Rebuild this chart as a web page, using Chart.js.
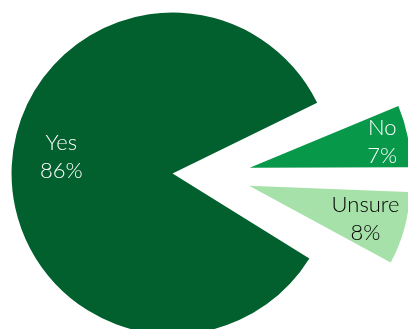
<!DOCTYPE html>
<html>
<head>
<meta charset="utf-8">
<script src="https://cdn.jsdelivr.net/npm/chart.js@4"></script>
<style>
  html, body { margin: 0; padding: 0; background: #fff; }
  #wrap { width: 408px; height: 329px; }
</style>
</head>
<body>
<div id="wrap"><canvas id="myChart" width="408" height="329"></canvas></div>
<script>
const categories = ['Yes', 'No', 'Unsure'];
const values = [86, 7, 8];
const sliceColors = ['#01602D', '#07984A', '#A6E1A9'];
const labelColors = ['#ffffff', '#ffffff', '#000000'];

const RADIUS = 161;
const EXPLODE = 39;          // gap each slice is pulled out, px
const labelDist = [0.70, 0.84, 0.75];   // label distance, fraction of radius
const labelAngle = [0.52, 0.5, 0.5];    // where in the slice the label sits

// Chart.js grows the arc radius together with the offset; undo that
const keepRadius = {
  id: 'keepRadius',
  afterDatasetsUpdate(chart) {
    chart.getDatasetMeta(0).data.forEach(arc => {
      const off = (arc.options.offset || 0) / 4;
      const fix = 1 - Math.sin(Math.min(Math.PI, arc.circumference));
      arc.outerRadius = RADIUS - off * fix;
    });
  }
};

const sliceLabels = {
  id: 'sliceLabels',
  afterDatasetsDraw(chart) {
    const ctx = chart.ctx;
    ctx.save();
    ctx.font = '300 22px Lato';
    ctx.textAlign = 'center';
    ctx.textBaseline = 'alphabetic';
    chart.getDatasetMeta(0).data.forEach((arc, i) => {
      const mid = (arc.startAngle + arc.endAngle) / 2;
      const off = (arc.options.offset || 0) / 4;
      const cx = arc.x + Math.cos(mid) * off;
      const cy = arc.y + Math.sin(mid) * off;
      const a = arc.startAngle + labelAngle[i] * (arc.endAngle - arc.startAngle);
      const r = RADIUS * labelDist[i];
      const x = cx + Math.cos(a) * r;
      const y = cy + Math.sin(a) * r;
      ctx.fillStyle = labelColors[i];
      ctx.fillText(categories[i], x, y - 6);
      ctx.fillText(values[i] + '%', x, y + 22);
    });
    ctx.restore();
  }
};

new Chart('myChart', {
  type: 'pie',
  data: {
    labels: categories,
    datasets: [{
      data: values,
      backgroundColor: sliceColors,
      borderWidth: 0,
      offset: EXPLODE * 4,
      hoverOffset: 0,
      clip: false
    }]
  },
  options: {
    responsive: false,
    animation: false,
    rotation: 119.6,
    radius: RADIUS,
    layout: { padding: { left: 15, top: 22 } },
    events: [],
    plugins: {
      legend: { display: false },
      tooltip: { enabled: false }
    }
  },
  plugins: [keepRadius, sliceLabels]
});
</script>
</body>
</html>
